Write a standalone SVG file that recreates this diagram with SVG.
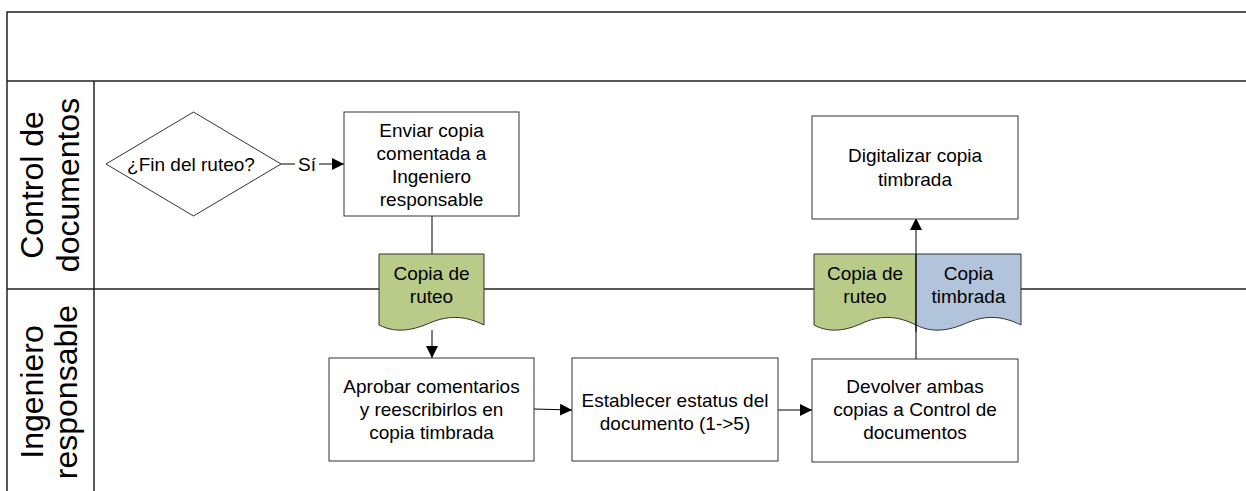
<svg xmlns="http://www.w3.org/2000/svg" width="1246" height="491" viewBox="0 0 1246 491">
<defs>
<style>
.frame{fill:none;stroke:#222;stroke-width:1.5}
.box{fill:#fff;stroke:#333;stroke-width:1}
.lbl{font-family:"Liberation Sans",Arial,sans-serif;font-size:19px;fill:#000;text-anchor:middle}
.lane{font-family:"Liberation Sans",Arial,sans-serif;font-size:32px;fill:#000;text-anchor:middle}
.con{fill:none;stroke:#000;stroke-width:1}
.green{fill:#b8cb88;stroke:#333;stroke-width:1}
.blue{fill:#b1c4dc;stroke:#333;stroke-width:1}
</style>
<marker id="arr" markerWidth="12" markerHeight="12" refX="12" refY="6" orient="auto" markerUnits="userSpaceOnUse">
<path d="M0,0 L12,6 L0,12 z" fill="#000"/>
</marker>
</defs>
<rect width="1246" height="491" fill="#fff"/>
<g id="pool">
<path class="frame" d="M1246,12 H7 V491"/>
<path class="frame" d="M7,81 H1246"/>
<path class="frame" d="M94,81 V491"/>
<path class="frame" d="M7,289 H1246"/>
<text class="lane" transform="translate(50,185) rotate(-90)"><tspan x="0" y="-7">Control de</tspan><tspan x="0" y="29">documentos</tspan></text>
<text class="lane" transform="translate(50,392) rotate(-90)"><tspan x="0" y="-7">Ingeniero</tspan><tspan x="0" y="27">responsable</tspan></text>
</g>
<g id="connectors">
<line class="con" x1="281" y1="164" x2="344" y2="164" marker-end="url(#arr)"/>
<rect x="295" y="153" width="24" height="22" fill="#fff"/>
<text class="lbl" x="307" y="171">Sí</text>
<line class="con" x1="432" y1="216" x2="432" y2="255"/>
<line class="con" x1="432" y1="330" x2="432" y2="358" marker-end="url(#arr)"/>
<line class="con" x1="534" y1="409" x2="572" y2="410" marker-end="url(#arr)"/>
<line class="con" x1="778" y1="410" x2="812" y2="410" marker-end="url(#arr)"/>
<line class="con" x1="916" y1="359" x2="916" y2="218" marker-end="url(#arr)"/>
</g>
<g id="decision">
<path class="box" d="M106,164 L193.5,112 L281,164 L193.5,216 Z"/>
<text class="lbl" x="191" y="171">¿Fin del ruteo?</text>
</g>
<g id="enviar">
<rect class="box" x="344" y="112" width="175" height="104"/>
<text class="lbl"><tspan x="431.5" y="137">Enviar copia</tspan><tspan x="431.5" y="160">comentada a</tspan><tspan x="431.5" y="183">Ingeniero</tspan><tspan x="431.5" y="206">responsable</tspan></text>
</g>
<g id="doc-ruteo-1">
<path class="green" d="M379,254 H484 V325 C466,316 450,315 432,322 C414,330 397,334 379,325 Z"/>
<text class="lbl"><tspan x="431.5" y="280">Copia de</tspan><tspan x="431.5" y="303">ruteo</tspan></text>
</g>
<g id="aprobar">
<rect class="box" x="329" y="358" width="205" height="103"/>
<text class="lbl"><tspan x="431.5" y="393">Aprobar comentarios</tspan><tspan x="431.5" y="416">y reescribirlos en</tspan><tspan x="431.5" y="439">copia timbrada</tspan></text>
</g>
<g id="establecer">
<rect class="box" x="572" y="358" width="206" height="103"/>
<text class="lbl"><tspan x="675" y="407">Establecer estatus del</tspan><tspan x="675" y="430">documento (1-&gt;5)</tspan></text>
</g>
<g id="devolver">
<rect class="box" x="812" y="359" width="206" height="103"/>
<text class="lbl"><tspan x="915" y="393">Devolver ambas</tspan><tspan x="915" y="416">copias a Control de</tspan><tspan x="915" y="439">documentos</tspan></text>
</g>
<g id="digitalizar">
<rect class="box" x="812" y="116" width="206" height="103"/>
<text class="lbl"><tspan x="915" y="162">Digitalizar copia</tspan><tspan x="915" y="186">timbrada</tspan></text>
</g>
<g id="doc-ruteo-2">
<path class="green" d="M814,254 H916 V325 C898,316 882,315 865,322 C848,330 831,334 814,325 Z"/>
<text class="lbl"><tspan x="865" y="280">Copia de</tspan><tspan x="865" y="303">ruteo</tspan></text>
</g>
<g id="doc-timbrada">
<path class="blue" d="M916,254 H1021 V325 C1003,316 987,315 969,322 C951,330 934,334 916,325 Z"/>
<text class="lbl"><tspan x="968.5" y="280">Copia</tspan><tspan x="968.5" y="303">timbrada</tspan></text>
</g>
<line class="con" x1="916" y1="254" x2="916" y2="332"/>
</svg>
